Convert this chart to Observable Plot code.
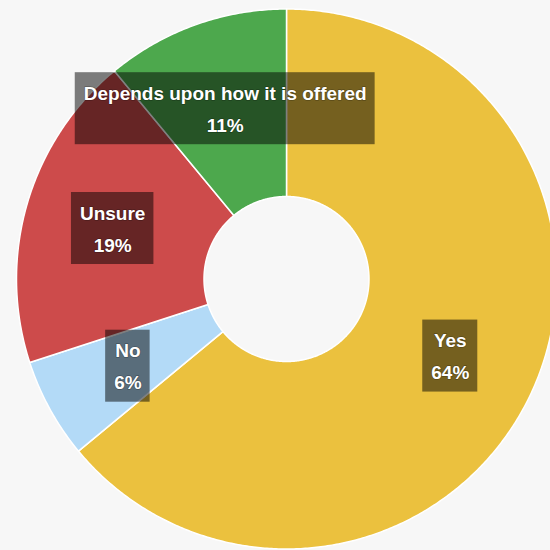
<!DOCTYPE html>
<html>
<head>
<meta charset="utf-8">
<script src="https://cdn.jsdelivr.net/npm/d3@7"></script>
<script src="https://cdn.jsdelivr.net/npm/@observablehq/plot@0.6"></script>
<style>
  html, body { margin: 0; padding: 0; background: #f7f7f7; }
  #chart { width: 550px; height: 550px; }
</style>
</head>
<body>
<div id="chart"></div>
<script>
// Data
const categories = ["Yes", "No", "Unsure", "Depends upon how it is offered"];
const percents = [64, 6, 19, 11];
const sliceColors = ["#ebc13e", "#b3daf7", "#cd4b4b", "#4da84d"];

// Layout
const W = 550, H = 550;
const cx = 286, cy = 278.5, rOuter = 270, rInner = 82.5, rLabel = 181;
const FS = 19;
const FONT = `bold ${FS}px 'Liberation Sans', Arial, Helvetica, sans-serif`;

const data = categories.map((c, i) => ({ label: c, value: percents[i] }));
const pie = d3.pie().sort(null).value(d => d.value);
const arcs = pie(data);

// polygon points per slice (angle measured clockwise from 12 o'clock)
const pts = [];
const pt = (a, r) => ({ x: cx + r * Math.sin(a), y: cy - r * Math.cos(a) });
arcs.forEach(a => {
  const n = Math.max(8, Math.ceil((a.endAngle - a.startAngle) * 120));
  for (let k = 0; k <= n; k++) {
    const t = a.startAngle + (a.endAngle - a.startAngle) * k / n;
    pts.push({ label: a.data.label, ...pt(t, rOuter) });
  }
  for (let k = n; k >= 0; k--) {
    const t = a.startAngle + (a.endAngle - a.startAngle) * k / n;
    pts.push({ label: a.data.label, ...pt(t, rInner) });
  }
});

// label positions and boxes
const ctx = document.createElement("canvas").getContext("2d");
ctx.font = FONT;
const labels = arcs.map(a => {
  const mid = (a.startAngle + a.endAngle) / 2;
  const p = pt(mid, rLabel);
  const pctText = a.data.value + "%";
  const w = Math.max(ctx.measureText(a.data.label).width, ctx.measureText(pctText).width);
  return {
    label: a.data.label, pct: pctText, x: p.x, y: p.y,
    x1: p.x - w / 2 - 8.5, x2: p.x + w / 2 + 8.5, y1: p.y - 36, y2: p.y + 36
  };
});

const textOpts = { x: "x", y: "y", fill: "#ffffff", fontSize: FS, fontWeight: "bold", textAnchor: "middle", lineAnchor: "middle",
  stroke: "#000000", strokeOpacity: 0.25, strokeWidth: 1.5 };

const chart = Plot.plot({
  width: W, height: H,
  margin: 0,
  style: { background: "#f7f7f7", fontFamily: "'Liberation Sans', Arial, Helvetica, sans-serif" },
  x: { domain: [0, W], range: [0, W], axis: null },
  y: { domain: [0, H], range: [0, H], axis: null },
  color: { domain: categories, range: sliceColors },
  marks: [
    Plot.line(pts, { x: "x", y: "y", z: "label", fill: "label", stroke: "#ffffff", strokeWidth: 1.5, curve: "linear-closed" }),
    Plot.rect(labels, { x1: "x1", x2: "x2", y1: "y1", y2: "y2", fill: "#000000", fillOpacity: 0.5 }),
    Plot.text(labels, { ...textOpts, text: "label", dy: -15 }),
    Plot.text(labels, { ...textOpts, text: "pct", dy: 17 })
  ]
});
document.getElementById("chart").appendChild(chart);
</script>
</body>
</html>
